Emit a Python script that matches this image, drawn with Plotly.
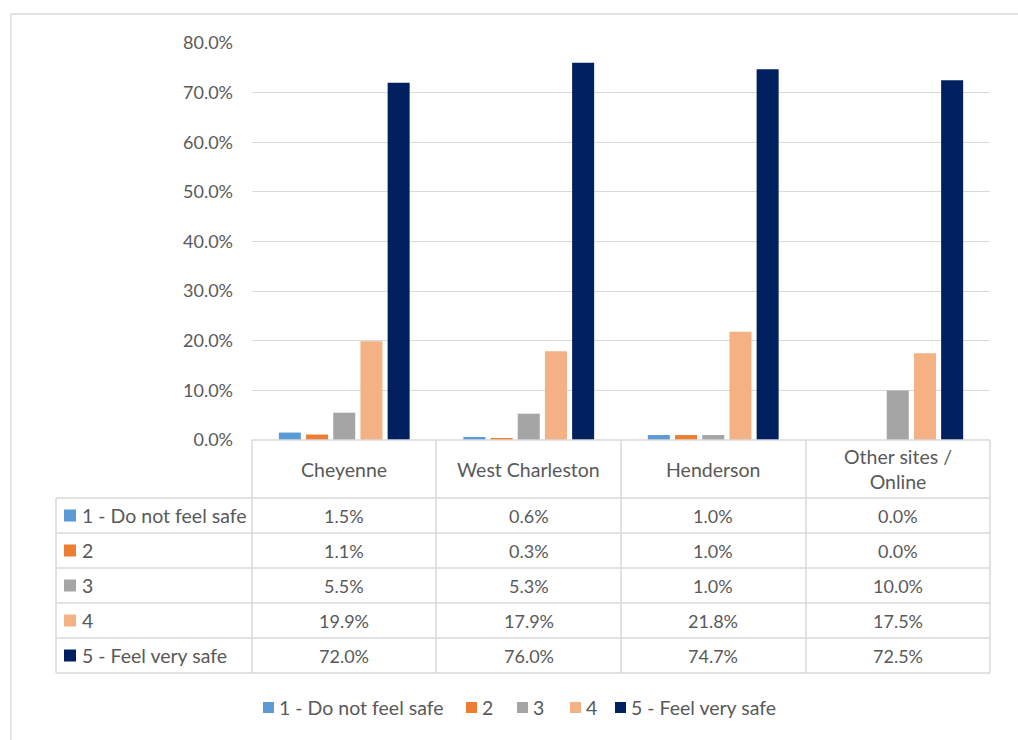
import plotly.graph_objects as go

# Survey results: share of respondents by safety rating, per site
sites = ["Cheyenne", "West Charleston", "Henderson", "Other sites /<br>Online"]
ratings = ["1 - Do not feel safe", "2", "3", "4", "5 - Feel very safe"]
rating_1 = [0.015, 0.006, 0.010, 0.000]
rating_2 = [0.011, 0.003, 0.010, 0.000]
rating_3 = [0.055, 0.053, 0.010, 0.100]
rating_4 = [0.199, 0.179, 0.218, 0.175]
rating_5 = [0.720, 0.760, 0.747, 0.725]
y_ticks = [0.0, 0.1, 0.2, 0.3, 0.4, 0.5, 0.6, 0.7, 0.8]

series = [rating_1, rating_2, rating_3, rating_4, rating_5]
colors = ["#5B9BD5", "#ED7D31", "#A5A5A5", "#F4B183", "#002060"]

FONT = "Lato"
TXT = "#595959"
GRID = "#D9D9D9"
NUM_SIZE = 18      # numeric labels
WORD_SIZE = 19.5   # word labels
W, H = 1018, 740
L, R, T, B = 252, 28, 43, 300
PW, PH = W - L - R, H - T - B


def xp(px):
    return (px - L) / PW


def yp(py):
    return (H - B - py) / PH


fig = go.Figure()
for name, vals, col in zip(ratings, series, colors):
    fig.add_trace(go.Bar(x=sites, y=vals, name=name, marker_color=col,
                         marker_line_width=0, hoverinfo="skip"))

shapes = []
annotations = []

# outer chart border
shapes.append(dict(type="rect", xref="paper", yref="paper",
                   x0=xp(11), x1=xp(1030), y0=yp(14), y1=yp(760),
                   line=dict(color=GRID, width=1.3), layer="below"))

# data table grid
col_edges = [252, 436, 621, 806, 990]
row_edges = [498, 533, 568, 603, 638, 673]
left_edge = 56
line = dict(color=GRID, width=1.5)
shapes.append(dict(type="line", xref="paper", yref="paper",
                   x0=xp(col_edges[0]), x1=xp(col_edges[-1]), y0=yp(440), y1=yp(440), line=line))
for ry in row_edges:
    shapes.append(dict(type="line", xref="paper", yref="paper",
                       x0=xp(left_edge), x1=xp(col_edges[-1]), y0=yp(ry), y1=yp(ry), line=line))
for cx in col_edges:
    shapes.append(dict(type="line", xref="paper", yref="paper",
                       x0=xp(cx), x1=xp(cx), y0=yp(440), y1=yp(row_edges[-1]), line=line))
shapes.append(dict(type="line", xref="paper", yref="paper",
                   x0=xp(left_edge), x1=xp(left_edge), y0=yp(row_edges[0]), y1=yp(row_edges[-1]), line=line))

# header row: site names
for s in sites:
    annotations.append(dict(x=s, xref="x", y=yp(469), yref="paper", text=s,
                            showarrow=False, xanchor="center", yanchor="middle",
                            font=dict(family=FONT, size=WORD_SIZE, color=TXT)))

# body rows: swatch, rating label and values
for i, (name, vals, col) in enumerate(zip(ratings, series, colors)):
    cy = (row_edges[i] + row_edges[i + 1]) / 2
    shapes.append(dict(type="rect", xref="paper", yref="paper",
                       x0=xp(64), x1=xp(76), y0=yp(cy - 6), y1=yp(cy + 6),
                       fillcolor=col, line=dict(width=0)))
    annotations.append(dict(x=xp(80), xref="paper", y=yp(cy), yref="paper", text=name,
                            showarrow=False, xanchor="left", yanchor="middle",
                            font=dict(family=FONT, size=WORD_SIZE, color=TXT)))
    for s, v in zip(sites, vals):
        annotations.append(dict(x=s, xref="x", y=yp(cy), yref="paper", text=f"{v * 100:.1f}%",
                                showarrow=False, xanchor="center", yanchor="middle",
                                font=dict(family=FONT, size=NUM_SIZE, color=TXT)))

# legend row beneath the table
legend_swatch_x = [263, 466, 517, 570, 615]
for name, col, sx in zip(ratings, colors, legend_swatch_x):
    shapes.append(dict(type="rect", xref="paper", yref="paper",
                       x0=xp(sx), x1=xp(sx + 11), y0=yp(702), y1=yp(713),
                       fillcolor=col, line=dict(width=0)))
    annotations.append(dict(x=xp(sx + 14), xref="paper", y=yp(707.5), yref="paper", text=name,
                            showarrow=False, xanchor="left", yanchor="middle",
                            font=dict(family=FONT, size=WORD_SIZE, color=TXT)))

fig.update_layout(
    width=W, height=H,
    margin=dict(l=L, r=R, t=T, b=B),
    paper_bgcolor="white", plot_bgcolor="white",
    barmode="group", bargap=0.263, bargroupgap=0.19,
    showlegend=False,
    font=dict(family=FONT, size=NUM_SIZE, color=TXT),
    shapes=shapes, annotations=annotations,
    xaxis=dict(showticklabels=False, showgrid=False, zeroline=False,
               showline=False, ticks="", range=[-0.5, 3.5]),
    yaxis=dict(range=[0, 0.8], tickvals=y_ticks, tickformat=".1%",
               showgrid=True, gridcolor=GRID, gridwidth=1.3,
               zeroline=False, showline=False, ticks="",
               ticklabelstandoff=18,
               tickfont=dict(family=FONT, size=NUM_SIZE, color=TXT)),
)

fig.write_html("out.html")
